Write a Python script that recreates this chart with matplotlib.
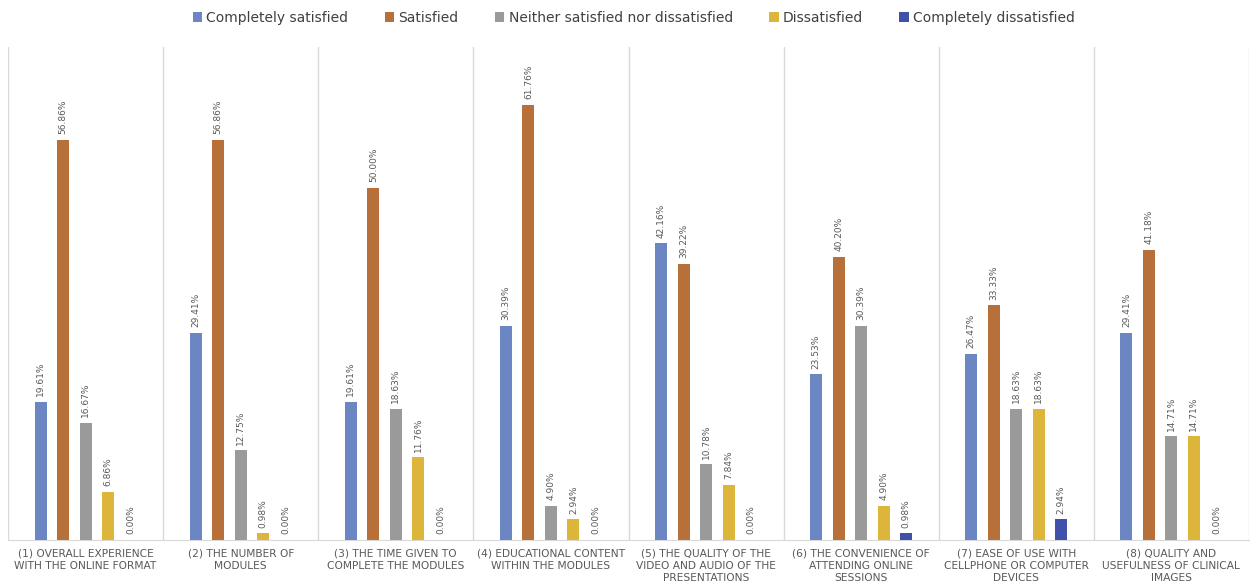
import matplotlib
matplotlib.use("Agg")
import matplotlib.pyplot as plt
from matplotlib import font_manager
import numpy as np

categories = [
    "(1) OVERALL EXPERIENCE\nWITH THE ONLINE FORMAT",
    "(2) THE NUMBER OF\nMODULES",
    "(3) THE TIME GIVEN TO\nCOMPLETE THE MODULES",
    "(4) EDUCATIONAL CONTENT\nWITHIN THE MODULES",
    "(5) THE QUALITY OF THE\nVIDEO AND AUDIO OF THE\nPRESENTATIONS",
    "(6) THE CONVENIENCE OF\nATTENDING ONLINE\nSESSIONS",
    "(7) EASE OF USE WITH\nCELLPHONE OR COMPUTER\nDEVICES",
    "(8) QUALITY AND\nUSEFULNESS OF CLINICAL\nIMAGES",
]
series_names = ["Completely satisfied", "Satisfied", "Neither satisfied nor dissatisfied",
                "Dissatisfied", "Completely dissatisfied"]
completely_satisfied = [19.61, 29.41, 19.61, 30.39, 42.16, 23.53, 26.47, 29.41]
satisfied = [56.86, 56.86, 50.00, 61.76, 39.22, 40.20, 33.33, 41.18]
neither = [16.67, 12.75, 18.63, 4.90, 10.78, 30.39, 18.63, 14.71]
dissatisfied = [6.86, 0.98, 11.76, 2.94, 7.84, 4.90, 18.63, 14.71]
completely_dissatisfied = [0.00, 0.00, 0.00, 0.00, 0.00, 0.98, 2.94, 0.00]
series = [completely_satisfied, satisfied, neither, dissatisfied, completely_dissatisfied]
colors = ["#6b86c3", "#b8703b", "#9a9a9a", "#dcb53a", "#3f51a8"]

available = {f.name for f in font_manager.fontManager.ttflist}
legend_family = "Liberation Sans Narrow" if "Liberation Sans Narrow" in available else "DejaVu Sans"
legend_size = 12.5 if legend_family == "Liberation Sans Narrow" else 10

fig = plt.figure(figsize=(12.5, 5.84), dpi=100)
ax = fig.add_axes([0.0064, 0.0753, 0.9928, 0.8442])

x = np.arange(len(categories))
step = 0.145
width = 0.077
for i, (vals, c, name) in enumerate(zip(series, colors, series_names)):
    pos = x + (i - 2) * step
    ax.bar(pos, vals, width=width, color=c, label=name, zorder=3)
    for xp, v in zip(pos, vals):
        ax.annotate(f"{v:.2f}%", (xp, v), xytext=(0, 4), textcoords="offset points",
                    rotation=90, ha="center", va="bottom", fontsize=6.5, color="#595959")

ax.set_xlim(-0.5, len(categories) - 0.5)
ax.set_ylim(0, 70)
ax.set_yticks([])
ax.set_xticks(x)
ax.set_xticklabels(categories, fontsize=7.7, color="#595959", linespacing=1.3)
ax.tick_params(axis="x", length=0, pad=6)
ax.set_xticks(np.arange(-0.5, len(categories)), minor=True)
ax.tick_params(axis="x", which="minor", length=0)
ax.grid(which="minor", axis="x", color="#d9d9d9", linewidth=1, zorder=0)
ax.grid(which="major", visible=False)
for s in ["top", "left", "right"]:
    ax.spines[s].set_visible(False)
ax.spines["bottom"].set_color("#d9d9d9")

fig.legend(loc="center", bbox_to_anchor=(0.507, 0.97), ncol=5, frameon=False,
           prop={"family": legend_family, "size": legend_size},
           handlelength=0.7, handleheight=0.7, handletextpad=0.3,
           columnspacing=2.6, labelcolor="#404040")

fig.savefig("out.png", dpi=100)
